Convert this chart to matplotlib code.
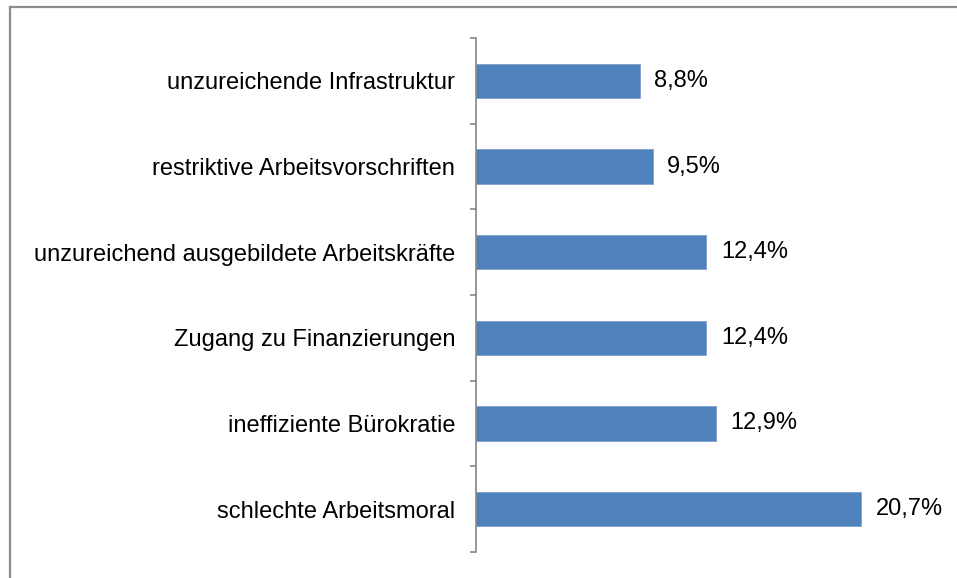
import matplotlib.pyplot as plt
import numpy as np
from matplotlib.lines import Line2D

# data, top to bottom as in the chart
categories = [
    "unzureichende Infrastruktur",
    "restriktive Arbeitsvorschriften",
    "unzureichend ausgebildete Arbeitskräfte",
    "Zugang zu Finanzierungen",
    "ineffiziente Bürokratie",
    "schlechte Arbeitsmoral",
]
values = [8.8, 9.5, 12.4, 12.4, 12.9, 20.7]

plt.rcParams['font.family'] = ['Liberation Sans', 'DejaVu Sans']

fig = plt.figure(figsize=(9.57, 5.78), dpi=100)
ax = fig.add_axes([476 / 957, 26 / 578, 464.5 / 957, 514 / 578])

n = len(categories)
y = np.arange(n)[::-1]
ax.barh(y, values, height=0.4, color='#4F81BD', edgecolor='#7EA1CD', linewidth=0.6)

for yi, v in zip(y, values):
    ax.text(v + 0.8, yi, f"{v:.1f}%".replace('.', ','), va='center', ha='left', fontsize=17)

ax.set_xlim(0, 25)
ax.set_ylim(-0.5, n - 0.5)

ax.set_yticks(y)
ax.set_yticklabels(categories, fontsize=17)
ax.tick_params(axis='y', which='major', length=0, pad=15)
ax.set_yticks(np.arange(n + 1) - 0.5, minor=True)
ax.tick_params(axis='y', which='minor', length=4, width=1.2, color='#868686')
ax.set_xticks([])

for s in ['top', 'right', 'bottom']:
    ax.spines[s].set_visible(False)
ax.spines['left'].set_color('#868686')
ax.spines['left'].set_linewidth(1.2)

# chart border (top and left edges only visible)
fig.add_artist(Line2D([9.5 / 957, 1.0], [1 - 6.5 / 578, 1 - 6.5 / 578], color='#8C8C8C', lw=1.6, transform=fig.transFigure))
fig.add_artist(Line2D([9.5 / 957, 9.5 / 957], [0, 1 - 6.5 / 578], color='#8C8C8C', lw=1.6, transform=fig.transFigure))

fig.savefig('out.png', dpi=100)
